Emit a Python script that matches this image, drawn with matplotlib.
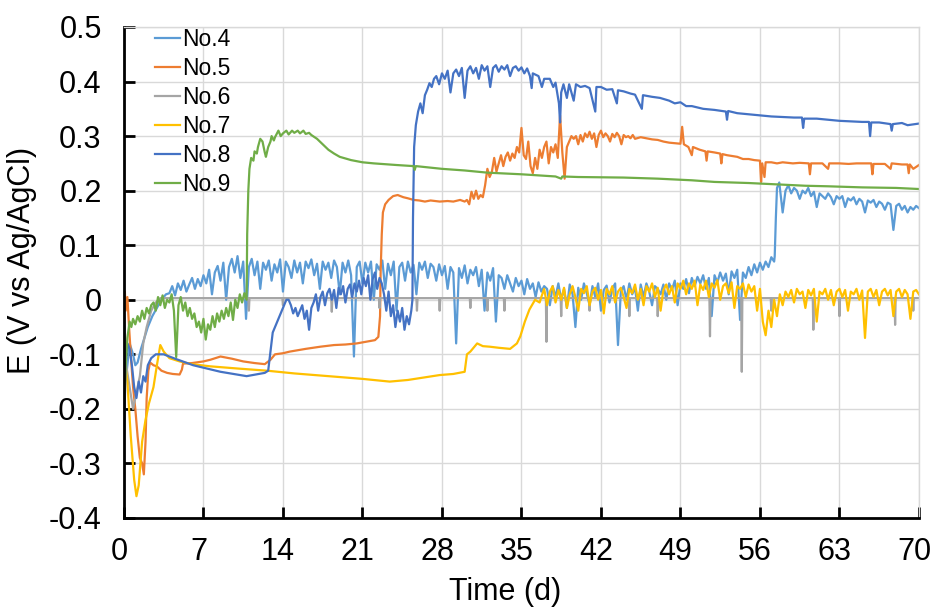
import matplotlib.pyplot as plt
import matplotlib.transforms as mtransforms
import numpy as np

plt.rcParams["font.family"] = ["Liberation Sans", "DejaVu Sans"]
plt.rcParams["axes.unicode_minus"] = False

labels = ["No.4", "No.5", "No.6", "No.7", "No.8", "No.9"]
colors = ["#5B9BD5", "#ED7D31", "#A5A5A5", "#FFC000", "#4472C4", "#70AD47"]

x_ticks = list(range(0, 71, 7))
y_ticks = [-0.4, -0.3, -0.2, -0.1, 0, 0.1, 0.2, 0.3, 0.4, 0.5]

# each series: single (day, E) readings + runs of readings taken at a fixed step
# run = (first day, step in days, values)

# No.4
no4_pts = [(0, -0.10), (0.2, -0.14), (0.5, -0.08), (0.8, -0.10), (1.0, -0.12), (1.2, -0.115),
           (1.5, -0.09), (1.8, -0.07), (2.1, -0.05), (2.5, -0.03), (2.9, -0.015), (3.3, 0.0),
           (3.7, 0.01), (57.3, 0.08), (57.4, 0.15), (57.5, 0.205), (57.7, 0.215)]
no4_runs = [
    (4.0, 0.25, [0.012, 0.025, 0.008, 0.03, 0.018, 0.035, 0.015, 0.028, 0.04, 0.02, 0.038, 0.025, 0.045]),
    (7.25, 0.25, [0.03, 0.055, 0.01, 0.05, 0.062, 0.035, 0.068, 0.0, 0.06, 0.075]),
    (9.75, 0.25, [0.05, 0.08, 0.04, 0.07, -0.035, 0.06]),
    (11.25, 0.25, [0.075, 0.045, 0.07, 0.02, 0.068, 0.055, 0.072, 0.035, 0.065, 0.05,
                   0.074, 0.015, 0.07, 0.06, 0.04, 0.072, 0.05, 0.068, 0.03, 0.07,
                   0.058, 0.074, 0.045, 0.066, 0.02, 0.07, 0.055, 0.068, 0.04, 0.072,
                   0.06, 0.01, 0.068, 0.05, 0.072, 0.045]),
    (20.25, 0.25, [-0.104, 0.06, 0.07, 0.03, 0.068, 0.05, 0.07, 0.0, 0.065, 0.055,
                   0.072, 0.02, 0.066, 0.045, 0.07, -0.02, 0.06, 0.068, 0.035, 0.07,
                   0.05, 0.064, 0.01, 0.068, 0.055, 0.07, 0.04, 0.066]),
    (27.25, 0.25, [0.06, 0.035, 0.065, 0.045, 0.062, 0.02, 0.06, 0.05, -0.08, 0.058,
                   0.04, 0.063, 0.03, 0.055, 0.045, 0.06, 0.025, 0.055, -0.02, 0.05,
                   0.035, 0.058, -0.04, 0.045]),
    (33.25, 0.25, [0.04, 0.02, 0.045, 0.03, 0.015, 0.04, 0.025, 0.035, 0.01, 0.038,
                   0.02, 0.03, 0.005, 0.032, 0.015, 0.025]),
    (37.25, 0.25, [0.02, -0.01, 0.025, 0.005, 0.03, 0.0, 0.02, -0.015, 0.028, 0.01,
                   -0.05, 0.022, 0.0, 0.03, 0.012, -0.01, 0.025, 0.005, 0.03, -0.02,
                   0.018, 0.026, -0.005, 0.02, 0.03, -0.083, 0.015, 0.025, 0.0, 0.03,
                   0.01, 0.022, -0.02, 0.028, 0.005, 0.03, 0.015, -0.01, 0.025, 0.02]),
    (47.25, 0.25, [0.01, 0.028, 0.0, 0.03, 0.018, 0.035, -0.01, 0.03, 0.02, 0.038,
                   0.012, 0.04, 0.025, 0.042, 0.03, 0.045, 0.02, 0.04, -0.03, 0.045,
                   0.032, 0.05, 0.035, 0.048, 0.01, 0.052, 0.04, 0.055, -0.037, 0.05,
                   0.04, 0.06, 0.045, 0.065, 0.05, 0.068, 0.055, 0.07, 0.06, 0.078, 0.07]),
    (58.0, 0.25, [0.16, 0.2, 0.21, 0.195, 0.205, 0.2, 0.185, 0.2, 0.195, 0.205,
                  0.19, 0.198, 0.17, 0.195, 0.19, 0.185, 0.195, 0.188, 0.175, 0.19,
                  0.185, 0.19, 0.17, 0.186, 0.182, 0.188, 0.175, 0.185, 0.18, 0.16,
                  0.182, 0.178, 0.183, 0.17, 0.18, 0.176, 0.165, 0.178, 0.175, 0.128,
                  0.172, 0.176, 0.165, 0.172, 0.16, 0.17, 0.165, 0.172, 0.168]),
]

# No.5
no5_pts = [(0, 0.0), (0.08, 0.015), (0.15, -0.02), (0.3, 0.005), (0.45, -0.05), (0.6, -0.10),
           (0.8, -0.16), (1.0, -0.20), (1.2, -0.25), (1.4, -0.29), (1.6, -0.30), (1.75, -0.32),
           (1.9, -0.26), (2.0, -0.18), (2.15, -0.13), (2.3, -0.115), (2.6, -0.12), (2.9, -0.122),
           (3.3, -0.13), (3.8, -0.134), (4.3, -0.136), (4.9, -0.137), (5.1, -0.128), (5.2, -0.117),
           (6.0, -0.116), (7.0, -0.113), (7.6, -0.11), (8.5, -0.104), (9.0, -0.106), (9.5, -0.108),
           (10.5, -0.113), (11.5, -0.116), (12.4, -0.118), (12.9, -0.11), (13.3, -0.10),
           (14.0, -0.098), (14.6, -0.095), (16.0, -0.09), (17.3, -0.086), (18.5, -0.083),
           (19.5, -0.082), (20.5, -0.08), (21.3, -0.077), (22.1, -0.074), (22.4, -0.068),
           (22.55, -0.03), (22.6, 0.05), (22.7, 0.12), (22.8, 0.16), (23.0, 0.175), (23.3, 0.183),
           (23.7, 0.19), (24.1, 0.192), (24.6, 0.188), (25.0, 0.186), (25.5, 0.183), (26.0, 0.182),
           (26.5, 0.18), (27.0, 0.182), (27.8, 0.18), (28.5, 0.181), (29.0, 0.18), (29.6, 0.183),
           (30.0, 0.18), (30.2, 0.183), (30.4, 0.175), (30.6, 0.198), (30.8, 0.185), (31.0, 0.2),
           (31.2, 0.185), (31.4, 0.192), (31.6, 0.188),
           (45.5, 0.298), (46.0, 0.296), (46.5, 0.294), (47.0, 0.293), (47.5, 0.29), (48.0, 0.288),
           (48.5, 0.287), (49.0, 0.286), (49.15, 0.317), (49.3, 0.285), (49.7, 0.28), (50.0, 0.265),
           (50.1, 0.28), (50.7, 0.275), (51.2, 0.272), (51.3, 0.255), (51.4, 0.272), (52.0, 0.27),
           (52.5, 0.268), (52.6, 0.25), (52.7, 0.267), (53.1, 0.265), (54.0, 0.262), (54.5, 0.258),
           (55.0, 0.258), (55.5, 0.256), (56.0, 0.255), (56.1, 0.216), (56.2, 0.25), (56.4, 0.225),
           (56.5, 0.252), (57.0, 0.252), (57.5, 0.25), (58.0, 0.252), (58.9, 0.25), (59.5, 0.251),
           (60.3, 0.25), (60.4, 0.23), (60.5, 0.25), (61.5, 0.25), (62.0, 0.24), (62.1, 0.25),
           (63.0, 0.25), (63.8, 0.249), (64.5, 0.25), (65.8, 0.25), (65.9, 0.23), (66.0, 0.249),
           (67.0, 0.249), (67.5, 0.24), (67.6, 0.25), (68.5, 0.248), (69.0, 0.248), (69.1, 0.232),
           (69.2, 0.248), (69.5, 0.24), (70.0, 0.247)]
no5_runs = [
    (31.8, 0.2, [0.21, 0.24, 0.225, 0.235, 0.26, 0.235, 0.25, 0.265, 0.245, 0.262, 0.27, 0.255,
                 0.268, 0.26, 0.28, 0.27, 0.315, 0.265, 0.258, 0.29, 0.245, 0.232, 0.26, 0.24, 0.275,
                 0.26, 0.28, 0.29, 0.25, 0.28, 0.27, 0.285, 0.26, 0.338, 0.27, 0.222, 0.28, 0.29, 0.3,
                 0.295, 0.3, 0.285, 0.302, 0.29, 0.305, 0.298, 0.308, 0.295, 0.305,
                 0.28, 0.302, 0.31, 0.298, 0.305, 0.3, 0.29, 0.304, 0.298, 0.306,
                 0.3, 0.285, 0.302, 0.298, 0.3, 0.296, 0.302, 0.295]),
]

# No.6: flat level with short downward dips
no6_pts = [(0, -0.02), (0.2, -0.12), (0.5, -0.16), (0.8, -0.20), (1.1, -0.17), (1.4, -0.14),
           (1.7, -0.08), (2.0, -0.05), (2.4, -0.02), (2.8, -0.005), (3.2, 0.003), (70, 0.003)]
no6_level = 0.003
no6_dips = [(11.0, -0.02), (14.0, -0.01), (18.3, -0.022), (22.5, -0.015), (25.8, -0.02),
            (27.8, -0.02), (30.5, -0.015), (32.0, -0.02), (33.5, -0.02), (37.2, -0.077),
            (38.5, -0.03), (41.0, -0.02), (44.5, -0.03), (47.0, -0.03), (51.6, -0.067),
            (54.4, -0.132), (57.0, -0.02), (60.7, -0.055), (63.0, -0.03), (67.9, -0.046),
            (69.5, -0.02)]

# No.7
no7_pts = [(0, -0.10), (0.3, -0.15), (0.6, -0.25), (0.9, -0.33), (1.1, -0.36), (1.3, -0.34),
           (1.6, -0.26), (1.9, -0.22), (2.2, -0.19), (2.6, -0.16), (2.9, -0.12), (3.2, -0.083),
           (3.5, -0.095), (4.0, -0.107), (4.9, -0.113), (6.0, -0.118), (7.6, -0.122), (10.0, -0.126),
           (12.6, -0.13), (15.0, -0.135), (18.0, -0.14), (21.0, -0.145), (23.4, -0.15), (25.0, -0.147),
           (27.8, -0.138), (29.0, -0.136), (30.0, -0.132), (30.2, -0.10), (30.5, -0.095),
           (31.1, -0.08), (31.6, -0.085), (32.2, -0.086), (33.0, -0.088), (34.0, -0.09),
           (34.6, -0.08), (34.9, -0.067), (35.3, -0.04), (35.7, -0.018), (36.2, 0.0), (36.6, -0.005)]
no7_runs = [
    (36.75, 0.25, [0.005, 0.02, -0.01, 0.015, 0.025, -0.005, 0.018, 0.0, 0.022, -0.015,
                   0.01, 0.025, 0.005, -0.02, 0.02, 0.012, 0.025, -0.01, 0.015, 0.022,
                   0.0, 0.018, -0.025, 0.02, 0.01, 0.025, -0.005, 0.015, 0.022, 0.005,
                   -0.015, 0.02, 0.012, 0.028, 0.0, 0.02, -0.01, 0.025, 0.015, 0.03,
                   0.005, 0.022, -0.02, 0.018, 0.028, 0.01, 0.025, -0.005, 0.03, 0.02]),
    (49.25, 0.25, [0.035, 0.01, 0.03, 0.02, 0.035, -0.01, 0.028, 0.018, 0.035, 0.005,
                   0.03, 0.022, 0.036, 0.0, 0.025, 0.03, 0.012, 0.032, -0.015, 0.025,
                   0.02, 0.03, 0.005, 0.028, 0.015, 0.025, -0.02, 0.02]),
    (56.25, 0.25, [-0.04, -0.065, -0.02, -0.05, 0.0, -0.03, 0.01, -0.01]),
    (58.25, 0.25, [0.015, 0.005, 0.018, -0.005, 0.02, 0.01, 0.015, -0.015, 0.018, 0.008,
                   0.02, -0.04, 0.015, 0.01, 0.02, 0.0, 0.018, -0.01, 0.015, 0.02,
                   0.005, 0.018, -0.02, 0.015, 0.01, 0.02, 0.0, 0.017, -0.07, 0.015,
                   0.02, 0.005, 0.018, -0.01, 0.015, 0.02, 0.008, 0.018, -0.03, 0.015,
                   0.02, 0.005, 0.018, 0.01, -0.035, 0.015, 0.018, 0.01]),
]

# No.8
no8_pts = [(0, -0.25), (0.15, -0.12), (0.3, -0.08), (0.5, -0.09), (0.7, -0.12), (0.9, -0.16),
           (1.1, -0.18), (1.3, -0.15), (1.5, -0.17), (1.7, -0.14), (1.9, -0.15), (2.1, -0.12),
           (2.4, -0.107), (2.8, -0.10), (3.5, -0.10), (4.5, -0.108), (6.1, -0.12), (8.5, -0.132),
           (10.8, -0.14), (12.4, -0.134), (12.7, -0.13), (13.1, -0.06), (13.5, -0.04),
           (14.0, -0.015), (14.3, 0.0),
           (25.4, 0.0), (25.45, 0.15), (25.55, 0.28), (25.7, 0.32), (25.9, 0.345), (26.1, 0.36),
           (26.3, 0.342), (26.5, 0.375), (26.7, 0.385), (26.9, 0.397), (27.1, 0.39), (27.3, 0.405),
           (35.75, 0.41), (35.9, 0.388), (36.0, 0.415), (36.5, 0.41), (36.8, 0.39), (37.0, 0.405),
           (37.5, 0.405), (37.8, 0.39), (38.0, 0.398), (38.3, 0.36), (38.4, 0.325), (38.5, 0.38),
           (38.7, 0.395), (39.0, 0.37), (39.2, 0.395), (39.6, 0.365), (39.8, 0.395), (40.2, 0.39),
           (40.6, 0.392), (41.0, 0.388), (41.5, 0.345), (41.6, 0.39), (42.0, 0.39), (42.5, 0.385),
           (43.0, 0.386), (43.4, 0.36), (43.5, 0.384), (44.0, 0.382), (44.6, 0.378), (45.0, 0.376),
           (45.6, 0.35), (45.7, 0.375), (46.5, 0.372), (47.2, 0.37), (48.0, 0.365), (48.5, 0.36),
           (49.0, 0.362), (49.5, 0.355), (50.0, 0.355), (51.0, 0.35), (52.0, 0.348), (53.0, 0.345),
           (53.1, 0.33), (53.2, 0.346), (54.0, 0.342), (55.0, 0.34), (56.0, 0.338), (57.0, 0.336),
           (58.0, 0.335), (59.0, 0.334), (59.7, 0.334), (59.8, 0.315), (59.9, 0.332), (61.0, 0.332),
           (62.0, 0.33), (63.0, 0.328), (64.0, 0.327), (65.0, 0.326), (65.6, 0.326), (65.7, 0.30),
           (65.8, 0.325), (66.5, 0.325), (67.5, 0.322), (67.6, 0.31), (67.7, 0.322), (68.5, 0.324),
           (69.0, 0.32), (70.0, 0.323)]
no8_runs = [
    (14.5, 0.2, [0.0, -0.01, -0.025, -0.015, -0.03, -0.02, -0.01, -0.035, -0.02, -0.055, -0.015,
                 -0.005, 0.01, -0.02, 0.005, 0.015, -0.01, 0.012, 0.02, 0.0, 0.018,
                 -0.015, 0.022, 0.01, 0.025, -0.005, 0.02, 0.028, 0.005, 0.03, 0.015,
                 0.035, 0.01, 0.04, 0.025, 0.045, 0.0, 0.038, 0.05, 0.02, 0.04, 0.03,
                 0.01, -0.02, 0.015, -0.03, -0.01, -0.05, -0.02, -0.04, -0.015, -0.055,
                 -0.03, -0.045, -0.02]),
    (27.5, 0.25, [0.41, 0.395, 0.415, 0.405, 0.42, 0.38, 0.415, 0.422, 0.41, 0.425,
                  0.37, 0.42, 0.428, 0.415, 0.425, 0.405, 0.43, 0.42, 0.428, 0.39,
                  0.425, 0.43, 0.418, 0.428, 0.422, 0.43, 0.41, 0.425, 0.428, 0.42,
                  0.426, 0.415, 0.424]),
]

# No.9
no9_pts = [(0, -0.20), (0.15, -0.12), (0.3, -0.07), (0.5, -0.04), (0.65, -0.05),
           (10.8, 0.0), (10.85, 0.12), (10.95, 0.2), (11.05, 0.24), (11.2, 0.26), (11.4, 0.255),
           (11.5, 0.272), (11.7, 0.268), (11.8, 0.28), (12.0, 0.295), (12.2, 0.29), (12.4, 0.27),
           (12.5, 0.262), (12.7, 0.28), (12.9, 0.29), (13.0, 0.30), (13.2, 0.292), (13.3, 0.298),
           (13.6, 0.31), (13.8, 0.30), (14.0, 0.305), (14.3, 0.31), (14.5, 0.303), (14.8, 0.31),
           (15.0, 0.306), (15.3, 0.31), (15.5, 0.305), (15.8, 0.31), (16.0, 0.304), (16.3, 0.306),
           (16.5, 0.302), (17.0, 0.295), (17.5, 0.285), (18.0, 0.275), (18.5, 0.268), (19.0, 0.262),
           (20.0, 0.256), (21.0, 0.252), (22.0, 0.25), (24.0, 0.247), (25.5, 0.245), (25.6, 0.238),
           (25.7, 0.245), (28.0, 0.24), (30.0, 0.237), (32.0, 0.233), (35.0, 0.23), (38.0, 0.226),
           (38.5, 0.222), (38.6, 0.226), (40.0, 0.225), (44.0, 0.224), (47.0, 0.222), (50.0, 0.219),
           (52.0, 0.216), (55.0, 0.214), (58.0, 0.211), (60.0, 0.209), (62.0, 0.208), (65.0, 0.206),
           (68.0, 0.205), (70.0, 0.203)]
no9_runs = [
    (0.8, 0.2, [-0.035, -0.045, -0.03, -0.04, -0.02, -0.035, -0.015, -0.025, -0.01,
                -0.005, -0.02, 0.005, -0.01, 0.008, -0.015, 0.0, -0.005, 0.01, -0.02,
                -0.105, -0.01, 0.005, -0.02, -0.005, -0.03, -0.015, -0.035, -0.025, -0.05,
                -0.04, -0.06, -0.035, -0.073, -0.045, -0.055, -0.03, -0.05, -0.025, -0.04,
                -0.02, -0.035, -0.015, -0.03, -0.005, -0.037, 0.0, -0.015, 0.01, -0.005, 0.012]),
]


def build(pts, runs=()):
    t = [p[0] for p in pts]
    v = [p[1] for p in pts]
    for start, step, vals in runs:
        t += list(start + step * np.arange(len(vals)))
        v += vals
    t = np.array(t)
    v = np.array(v)
    order = np.argsort(t, kind="stable")
    return t[order], v[order]


no6_all = list(no6_pts)
for d, e in no6_dips:
    no6_all += [(d - 0.05, no6_level), (d, e), (d + 0.05, no6_level)]

series = [
    build(no4_pts, no4_runs),
    build(no5_pts, no5_runs),
    build(no6_all),
    build(no7_pts, no7_runs),
    build(no8_pts, no8_runs),
    build(no9_pts, no9_runs),
]

fig = plt.figure(figsize=(9.32, 6.12), dpi=100)
ax = fig.add_axes([0.133, 0.1536, 0.853, 0.8023])

for (t, v), lab, col in zip(series, labels, colors):
    ax.plot(t, v, color=col, lw=1.6, label=lab)

ax.set_xlim(0, 70)
ax.set_ylim(-0.4, 0.5)
ax.set_xticks(x_ticks)
ax.set_yticks(y_ticks)
ax.set_yticklabels([f"{y:g}" for y in y_ticks])
ax.tick_params(direction="in", length=8, width=2, labelsize=22, colors="black")
ax.tick_params(axis="y", pad=16)
ax.tick_params(axis="x", pad=14)

# x labels sit a little left of their ticks, as in the original
shift = mtransforms.ScaledTranslation(-0.05, 0, fig.dpi_scale_trans)
for lbl in ax.get_xticklabels():
    lbl.set_transform(lbl.get_transform() + shift)

ax.grid(True, color="#D9D9D9", lw=1)
ax.set_axisbelow(True)
for s in ["left", "bottom"]:
    ax.spines[s].set_linewidth(2)
    ax.spines[s].set_color("black")
for s in ["top", "right"]:
    ax.spines[s].set_linewidth(1)
    ax.spines[s].set_color("#D9D9D9")

ax.set_xlabel("Time (d)", fontsize=22)
ax.set_ylabel("E (V vs Ag/AgCl)", fontsize=22)
ax.xaxis.set_label_coords(0.48, -0.12)
ax.yaxis.set_label_coords(-0.11, 0.525)

ax.legend(loc="upper left", bbox_to_anchor=(0.039, 0.998), frameon=False, fontsize=16.5,
          handlelength=1.1, handletextpad=0.1, labelspacing=0.26, borderpad=0, borderaxespad=0)

fig.savefig("out.png", dpi=100)
